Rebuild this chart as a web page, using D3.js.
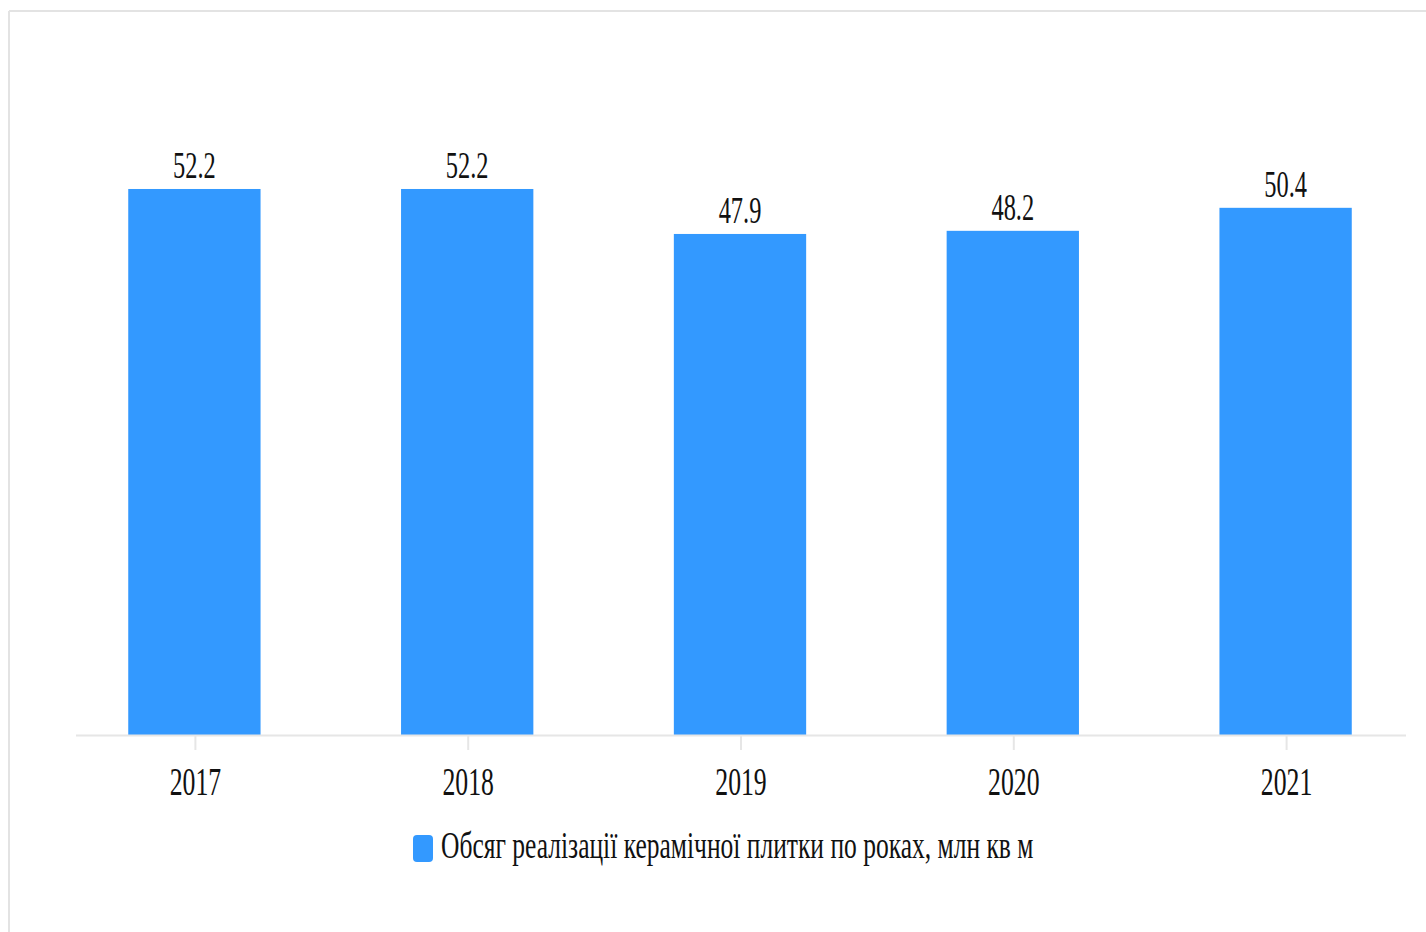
<!DOCTYPE html>
<html>
<head>
<meta charset="utf-8">
<script src="https://cdn.jsdelivr.net/npm/d3@7"></script>
<style>
  html, body { margin: 0; padding: 0; background: #fff; }
  svg { display: block; }
  svg text { font-family: "Liberation Serif", serif; }
</style>
</head>
<body>
<script>
// Ceramic tile sales volume by year, million sq. m
const years = ["2017", "2018", "2019", "2020", "2021"];
const volumes = [52.2, 52.2, 47.9, 48.2, 50.4];
const seriesName = "Обсяг реалізації керамічної плитки по роках, млн кв м";

const W = 1426, H = 932;
const narrow = 0.66;        // condensed glyph width
const legendNarrow = 0.69;

const svg = d3.select("body").append("svg")
  .attr("width", W).attr("height", H);

// frame lines
svg.append("line").attr("x1", 9).attr("x2", W).attr("y1", 11).attr("y2", 11)
  .attr("stroke", "#e3e3e3").attr("stroke-width", 2);
svg.append("line").attr("x1", 9).attr("x2", 9).attr("y1", 11).attr("y2", H)
  .attr("stroke", "#e3e3e3").attr("stroke-width", 2);

const x = d3.scaleBand().domain(years).range([58, 1422]).paddingInner(0.515).paddingOuter(0.2575);
const y = d3.scaleLinear().domain([0, 60]).range([735, 107.4]);

// bars
svg.append("g").selectAll("rect").data(years).join("rect")
  .attr("x", d => x(d))
  .attr("width", x.bandwidth())
  .attr("y", (d, i) => y(volumes[i]))
  .attr("height", (d, i) => y(0) - y(volumes[i]))
  .attr("fill", "#3399ff");

// value labels
svg.append("g").selectAll("text").data(years).join("text")
  .attr("transform", (d, i) => `translate(${x(d) + x.bandwidth() / 2},${y(volumes[i]) - 11}) scale(${narrow},1)`)
  .attr("text-anchor", "middle")
  .attr("font-size", 37)
  .attr("fill", "#111")
  .text((d, i) => volumes[i].toFixed(1));

// category axis
const axis = svg.append("g").attr("transform", "translate(0,735)");
axis.append("line").attr("x1", 76).attr("x2", 1406).attr("y1", 0.5).attr("y2", 0.5)
  .attr("stroke", "#e6e6e6").attr("stroke-width", 2);
axis.selectAll(".tick").data(years).join("line")
  .attr("class", "tick")
  .attr("x1", d => x(d) + x.bandwidth() / 2 + 1)
  .attr("x2", d => x(d) + x.bandwidth() / 2 + 1)
  .attr("y1", 1).attr("y2", 15)
  .attr("stroke", "#e6e6e6").attr("stroke-width", 2);
axis.selectAll(".lbl").data(years).join("text")
  .attr("class", "lbl")
  .attr("transform", d => `translate(${x(d) + x.bandwidth() / 2 + 1},60) scale(${narrow},1)`)
  .attr("text-anchor", "middle")
  .attr("font-size", 39)
  .attr("fill", "#111")
  .text(d => d);

// legend
const legend = svg.append("g").attr("transform", "translate(413,835)");
legend.append("rect").attr("width", 20).attr("height", 27).attr("rx", 4)
  .attr("fill", "#3399ff");
legend.append("text")
  .attr("transform", `translate(28,23) scale(${legendNarrow},1)`)
  .attr("font-size", 37)
  .attr("fill", "#111")
  .text(seriesName);
</script>
</body>
</html>
